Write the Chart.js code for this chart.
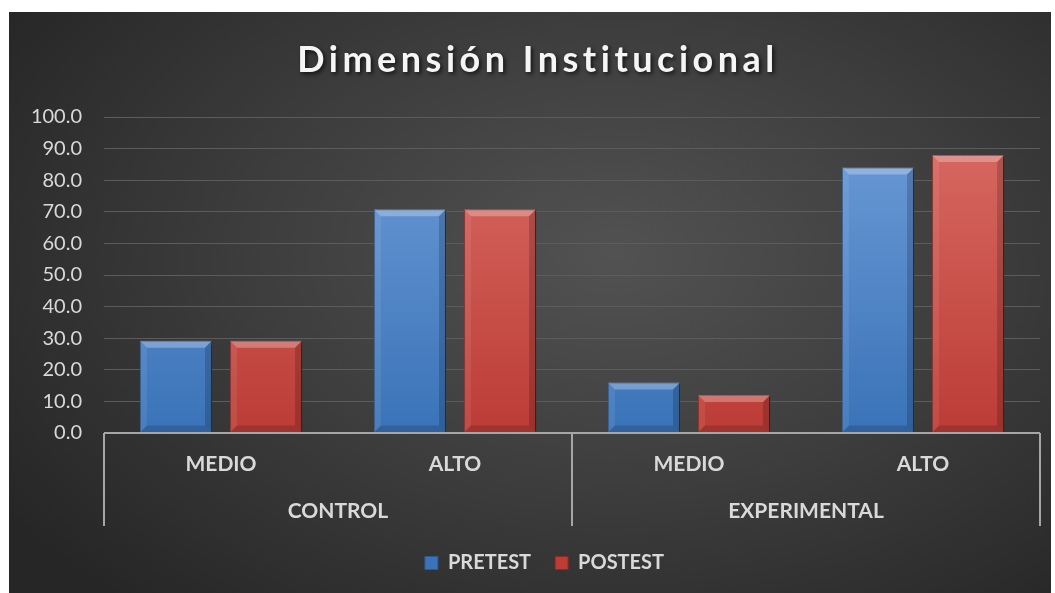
<!DOCTYPE html>
<html>
<head>
<meta charset="utf-8">
<script src="https://cdn.jsdelivr.net/npm/chart.js@4.4.0/dist/chart.umd.min.js"></script>
<style>
    html, body { margin: 0; padding: 0; background: #fff; }
    #wrap {
        position: absolute; left: 9px; top: 12px; width: 1042px; height: 581px;
        background: radial-gradient(ellipse 70% 80% at 58% 42%, #525252 0%, #3d3d3d 50%, #262626 100%);
    }
</style>
</head>
<body>
<div id="wrap"><canvas id="chart" width="1042" height="581"></canvas></div>
<script>
// data
const groups = ['CONTROL', 'EXPERIMENTAL'];
const levels = ['MEDIO', 'ALTO', 'MEDIO', 'ALTO'];
const pretest = [29.2, 70.8, 16.0, 84.0];
const postest = [29.2, 70.8, 12.0, 88.0];
const seriesNames = ['PRETEST', 'POSTEST'];
const titleText = 'Dimensión Institucional';

const FONT = 'Lato';
const textColor = '#d9d9d9';

// vertical gradient over the plot area, lighter at the top
function barFill(top, bottom) {
    return function (c) {
        const area = c.chart.chartArea;
        if (!area) return bottom;
        const g = c.chart.ctx.createLinearGradient(0, area.bottom, 0, area.top);
        g.addColorStop(0, bottom);
        g.addColorStop(1, top);
        return g;
    };
}

// title with letter spacing and a soft shadow
const spacedTitle = {
    id: 'spacedTitle',
    afterDraw(chart, args, opts) {
        const ctx = chart.ctx;
        ctx.save();
        ctx.font = opts.font;
        ctx.letterSpacing = opts.spacing;
        ctx.fillStyle = opts.color;
        ctx.textAlign = 'center';
        ctx.textBaseline = 'middle';
        ctx.shadowColor = 'rgba(0,0,0,0.7)';
        ctx.shadowBlur = 4;
        ctx.shadowOffsetX = 2;
        ctx.shadowOffsetY = 2;
        ctx.fillText(opts.text, chart.width / 2 + 8, opts.y);
        ctx.restore();
    }
};

// nudge the legend a bit right, like the original
const legendShift = {
    id: 'legendShift',
    afterLayout(chart) {
        chart.legend.left += 20;
        chart.legend.right += 20;
    }
};

// drop shadow under bars + bevel on top of them
const bevelBars = {
    id: 'bevelBars',
    beforeDatasetsDraw(chart) {
        const ctx = chart.ctx;
        ctx.save();
        ctx.shadowColor = 'rgba(0,0,0,0.45)';
        ctx.shadowBlur = 6;
        ctx.shadowOffsetX = 3;
        ctx.shadowOffsetY = 0;
    },
    afterDatasetsDraw(chart) {
        const ctx = chart.ctx;
        ctx.restore();
        chart.data.datasets.forEach((ds, i) => {
            chart.getDatasetMeta(i).data.forEach(bar => {
                const l = bar.x - bar.width / 2, r = bar.x + bar.width / 2;
                const t = bar.y, b = bar.base;
                const k = Math.min(7, (b - t) / 2);
                ctx.save();
                // top bevel
                ctx.fillStyle = 'rgba(255,255,255,0.28)';
                ctx.beginPath();
                ctx.moveTo(l, t); ctx.lineTo(r, t); ctx.lineTo(r - k, t + k); ctx.lineTo(l + k, t + k);
                ctx.closePath(); ctx.fill();
                // left edge
                ctx.fillStyle = 'rgba(255,255,255,0.08)';
                ctx.beginPath();
                ctx.moveTo(l, t); ctx.lineTo(l + k, t + k); ctx.lineTo(l + k, b - k); ctx.lineTo(l, b);
                ctx.closePath(); ctx.fill();
                // right edge
                ctx.fillStyle = 'rgba(0,0,0,0.18)';
                ctx.beginPath();
                ctx.moveTo(r, t); ctx.lineTo(r - k, t + k); ctx.lineTo(r - k, b - k); ctx.lineTo(r, b);
                ctx.closePath(); ctx.fill();
                // bottom edge
                ctx.fillStyle = 'rgba(0,0,0,0.15)';
                ctx.beginPath();
                ctx.moveTo(l, b); ctx.lineTo(l + k, b - k); ctx.lineTo(r - k, b - k); ctx.lineTo(r, b);
                ctx.closePath(); ctx.fill();
                ctx.restore();
            });
        });
    }
};

// axis tree lines for the two-level category axis
const treeLines = {
    id: 'treeLines',
    afterDraw(chart) {
        const { ctx, chartArea, scales: { x, x2 } } = chart;
        const perGroup = levels.length / groups.length;
        const edges = [chartArea.left];
        for (let gi = 1; gi < groups.length; gi++) {
            const a = x.getPixelForTick(gi * perGroup - 1), b = x.getPixelForTick(gi * perGroup);
            edges.push((a + b) / 2);
        }
        edges.push(chartArea.right);
        ctx.save();
        ctx.strokeStyle = '#a6a6a6';
        ctx.lineWidth = 2;
        ctx.beginPath();
        ctx.moveTo(chartArea.left, chartArea.bottom);
        ctx.lineTo(chartArea.right, chartArea.bottom);
        edges.forEach(e => {
            ctx.moveTo(e, chartArea.bottom);
            ctx.lineTo(e, x2.bottom - 3);
        });
        ctx.stroke();
        ctx.restore();
    }
};

const ctx = document.getElementById('chart').getContext('2d');
const chart = new Chart(ctx, {
    type: 'bar',
    data: {
        labels: levels,
        datasets: [
            {
                label: seriesNames[0],
                data: pretest,
                backgroundColor: barFill('#6e9cd8', '#3a73b8'),
                borderColor: '#2c5a92',
                borderWidth: 1,
                categoryPercentage: 0.77,
                barPercentage: 0.8,
            },
            {
                label: seriesNames[1],
                data: postest,
                backgroundColor: barFill('#d96c65', '#bc3c36'),
                borderColor: '#8a2a26',
                borderWidth: 1,
                categoryPercentage: 0.77,
                barPercentage: 0.8,
            },
        ],
    },
    options: {
        responsive: false,
        animation: false,
        layout: {
            padding: { top: 105, right: 11, bottom: 10, left: 0 }
        },
        scales: {
            x: {
                type: 'category',
                grid: { display: false, drawTicks: false },
                border: { display: false },
                ticks: {
                    color: textColor,
                    font: { family: FONT, size: 21, weight: 'bold' },
                    padding: 19,
                    maxRotation: 0,
                    autoSkip: false,
                },
                afterFit: (s) => { s.height = 46; },
            },
            x2: {
                type: 'category',
                labels: groups,
                position: 'bottom',
                offset: true,
                grid: { display: false, drawTicks: false },
                border: { display: false },
                ticks: {
                    color: textColor,
                    font: { family: FONT, size: 21, weight: 'bold' },
                    padding: 20,
                    maxRotation: 0,
                    autoSkip: false,
                },
                afterFit: (s) => { s.height = 50; },
            },
            y: {
                min: 0,
                max: 100,
                grid: { color: '#5c5c5c', lineWidth: 1, drawTicks: false },
                border: { display: false },
                ticks: {
                    stepSize: 10,
                    color: textColor,
                    font: { family: FONT, size: 20 },
                    padding: 22,
                    callback: (v) => Number(v).toFixed(1),
                },
                afterFit: (s) => { s.width = 95; },
            },
        },
        plugins: {
            legend: {
                position: 'bottom',
                labels: {
                    color: textColor,
                    font: { family: FONT, size: 20, weight: 'bold' },
                    boxWidth: 13,
                    boxHeight: 13,
                    padding: 24,
                },
            },
            tooltip: { enabled: false },
            spacedTitle: {
                text: titleText,
                font: 'bold 36px Lato',
                spacing: '4.5px',
                color: '#f5f5f5',
                y: 48,
            },
        },
    },
    plugins: [spacedTitle, legendShift, bevelBars, treeLines],
});
</script>
</body>
</html>
